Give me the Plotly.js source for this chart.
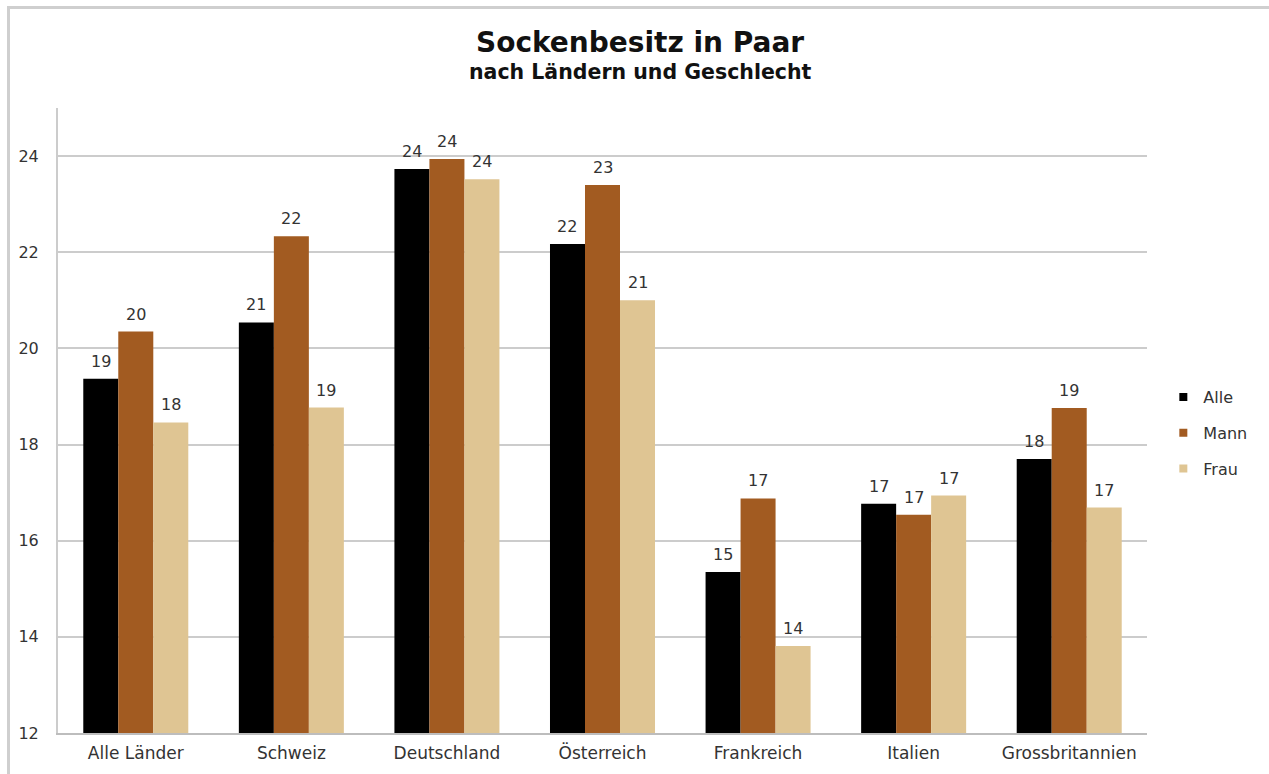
<!DOCTYPE html>
<html>
<head>
<meta charset="utf-8">
<script src="https://cdn.plot.ly/plotly-3.0.1.min.js"></script>
<style>
  html, body { margin: 0; padding: 0; background: #fff; overflow: hidden; width: 1269px; height: 774px; }
  #lineTop { position: absolute; left: 7px; top: 6px; width: 1262px; height: 3px; background: #cfcfcf; z-index: 5; }
  #lineLeft { position: absolute; left: 7px; top: 6px; width: 3px; height: 768px; background: #cfcfcf; z-index: 5; }
  #chart { position: absolute; left: 0; top: 0; width: 1269px; height: 774px; }
</style>
</head>
<body>
<div id="chart"></div>
<div id="lineTop"></div>
<div id="lineLeft"></div>
<script>
const categories = ["Alle Länder", "Schweiz", "Deutschland", "Österreich", "Frankreich", "Italien", "Grossbritannien"];
const seriesNames = ["Alle", "Mann", "Frau"];
const alleValues = [19.37, 20.54, 23.73, 22.17, 15.35, 16.77, 17.70];
const mannValues = [20.35, 22.33, 23.94, 23.40, 16.88, 16.54, 18.76];
const frauValues = [18.46, 18.77, 23.52, 21.00, 13.81, 16.94, 16.69];
const seriesColors = ["#000000", "#A25B21", "#DFC593"];
const yTicks = [12, 14, 16, 18, 20, 22, 24];
const titleText = "Sockenbesitz in Paar";
const subtitleText = "nach Ländern und Geschlecht";

const FONT = "Verdana, 'DejaVu Sans', sans-serif";
const values = [alleValues, mannValues, frauValues];

const W = 1269, H = 774;
const margin = { l: 58, r: 122, t: 108, b: 41 };
const bargap = 0.325;
const plotW = W - margin.l - margin.r;
const plotH = H - margin.t - margin.b;
const barW = plotW / categories.length * (1 - bargap) / values.length;
const titleCenterX = (640 - margin.l) / plotW;

const traces = [];
values.forEach((vals, i) => {
  traces.push({
    type: "bar",
    name: seriesNames[i],
    x: categories,
    y: vals,
    marker: { color: seriesColors[i], line: { width: 0 } },
    showlegend: false,
    hoverinfo: "x+y+name"
  });
});
values.forEach((vals, i) => {
  traces.push({
    type: "scatter",
    mode: "markers",
    name: seriesNames[i],
    x: [categories[0]],
    y: [null],
    marker: { symbol: "square", size: 8, color: seriesColors[i] },
    legendgroup: "g" + i,
    showlegend: true,
    hoverinfo: "skip"
  });
});

const annotations = [];
values.forEach((vals, i) => {
  vals.forEach((v, j) => {
    annotations.push({
      x: categories[j], y: v, xref: "x", yref: "y",
      text: String(Math.round(v)),
      showarrow: false,
      xanchor: "center", yanchor: "bottom",
      xshift: (i - (values.length - 1) / 2) * barW,
      yshift: 6,
      font: { family: FONT, size: 16, color: "#333" }
    });
  });
});
annotations.push({
  x: titleCenterX, y: 1 + 66 / plotH, xref: "paper", yref: "paper",
  text: "<b>" + titleText + "</b>", showarrow: false,
  xanchor: "center", yanchor: "middle",
  font: { family: FONT, size: 28, color: "#111" }
});
annotations.push({
  x: titleCenterX, y: 1 + 36 / plotH, xref: "paper", yref: "paper",
  text: "<b>" + subtitleText + "</b>", showarrow: false,
  xanchor: "center", yanchor: "middle",
  font: { family: FONT, size: 20.5, color: "#111" }
});

const layout = {
  width: W,
  height: H,
  margin: margin,
  paper_bgcolor: "#ffffff",
  plot_bgcolor: "#ffffff",
  font: { family: FONT, color: "#333" },
  barmode: "group",
  bargap: bargap,
  bargroupgap: 0,
  annotations: annotations,
  xaxis: {
    type: "category",
    showgrid: false,
    showline: true,
    linecolor: "#bdbdbd",
    linewidth: 2,
    ticks: "outside",
    ticklen: 4,
    tickcolor: "rgba(0,0,0,0)",
    tickfont: { family: FONT, size: 17, color: "#333" },
    fixedrange: true
  },
  yaxis: {
    range: [12, 25],
    tickvals: yTicks,
    ticktext: yTicks.map(String),
    showgrid: true,
    gridcolor: "#cccccc",
    gridwidth: 2,
    showline: true,
    linecolor: "#cccccc",
    linewidth: 2,
    zeroline: false,
    ticks: "outside",
    ticklen: 14,
    tickcolor: "rgba(0,0,0,0)",
    tickfont: { family: FONT, size: 16, color: "#333" },
    fixedrange: true
  },
  legend: {
    x: 1.015,
    xanchor: "left",
    y: 0.48,
    yanchor: "middle",
    font: { family: FONT, size: 16, color: "#333" },
    traceorder: "grouped",
    tracegroupgap: 12,
    itemwidth: 30,
    bgcolor: "rgba(0,0,0,0)"
  }
};

Plotly.newPlot("chart", traces, layout, { displayModeBar: false, staticPlot: true });
</script>
</body>
</html>
